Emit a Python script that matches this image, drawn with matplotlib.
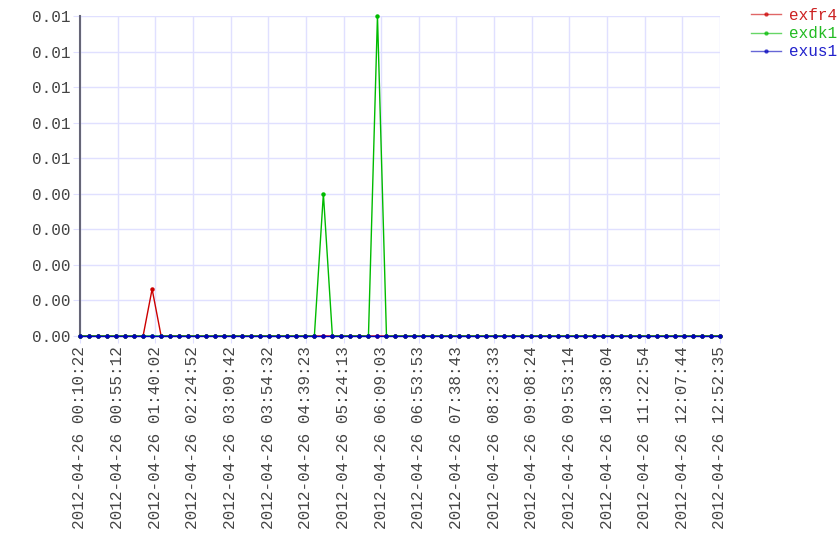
import numpy as np
import matplotlib
matplotlib.use("Agg")
import matplotlib.pyplot as plt
from datetime import datetime, timedelta

# ---- data ----
start_time = datetime(2012, 4, 26, 0, 10, 22)
end_time = datetime(2012, 4, 26, 12, 52, 35)
n_points = 72
n_xticks = 18
series_names = ["exfr4", "exdk1", "exus1"]
series_colors = ["#cc0000", "#00bb00", "#0000bb"]
legend_text_colors = ["#cc2222", "#22bb22", "#2222cc"]

exfr4 = [0.0] * n_points
exfr4[8] = 0.00132
exdk1 = [0.0] * n_points
exdk1[27] = 0.004
exdk1[33] = 0.009
exus1 = [0.0] * n_points
series_values = [exfr4, exdk1, exus1]

y_ticks = [i * 0.001 for i in range(10)]
# ----------------

total = (end_time - start_time).total_seconds()
times = [start_time + timedelta(seconds=total * i / (n_points - 1)) for i in range(n_points)]
x_ticks = [start_time + timedelta(seconds=int(total * k / (n_xticks - 1))) for k in range(n_xticks)]

plt.rcParams['font.family'] = ['Liberation Mono', 'DejaVu Sans Mono']
fig = plt.figure(figsize=(8.4, 5.6), dpi=100)
ax = fig.add_axes([80/840, 1 - 336/560, 640/840, 320/560])

for name, vals, col in zip(series_names, series_values, series_colors):
    ax.plot(times, vals, color=col, lw=1.0, marker='o', ms=2.2, mec=col, mfc=col,
            label=name, clip_on=False, zorder=3)

ax.set_xlim(start_time, end_time)
ax.set_ylim(0, 0.009)
ax.set_yticks(y_ticks)
ax.set_yticklabels(["%.2f" % v for v in y_ticks])
ax.set_xticks(x_ticks)
ax.set_xticklabels([t.strftime("%Y-%m-%d %H:%M:%S") for t in x_ticks], rotation=90)
ax.grid(True, color="#e0e0ff", lw=1.0)
ax.set_axisbelow(True)
for s in ["top", "right", "bottom"]:
    ax.spines[s].set_visible(False)
ax.spines["left"].set_color("#666677")
ax.spines["left"].set_linewidth(1.5)
ax.tick_params(axis='both', length=5, color="#e0e0ff", labelsize=11.5, labelcolor="#444444", pad=2)
ax.tick_params(axis='y', pad=1.5)

leg = ax.legend(loc='upper left', bbox_to_anchor=(751/840, 1 - 8/560), bbox_transform=fig.transFigure,
                frameon=False, fontsize=11.5, handlelength=1.9, handletextpad=0.45, labelspacing=0.2,
                borderpad=0, borderaxespad=0)
for txt, c in zip(leg.get_texts(), legend_text_colors):
    txt.set_color(c)
for h in leg.get_lines():
    h.set_alpha(0.6)

fig.savefig("out.png", dpi=100)
